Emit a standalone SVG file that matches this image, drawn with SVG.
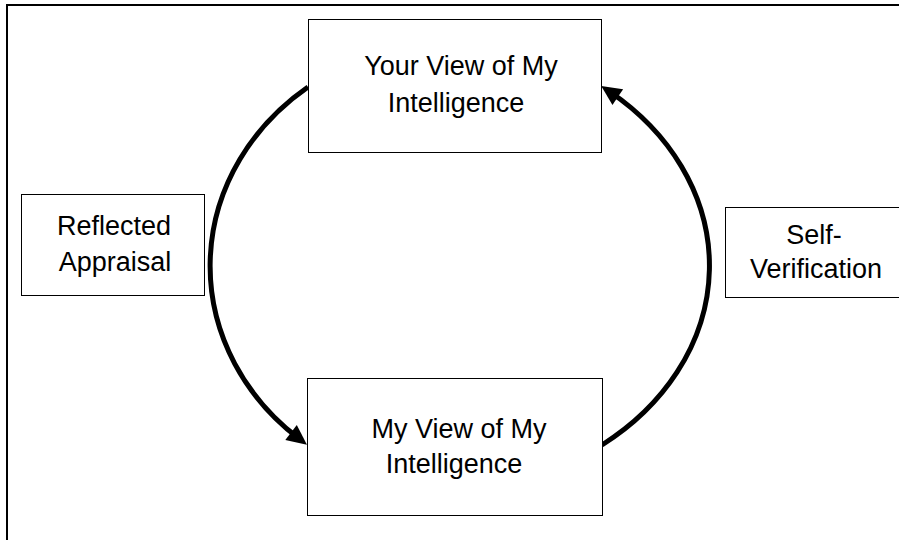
<svg xmlns="http://www.w3.org/2000/svg" width="899" height="540" viewBox="0 0 899 540">
  <style>
    .box { fill: #fff; stroke: #000; stroke-width: 1; }
    .lbl { font-family: "Liberation Sans", Arial, sans-serif; font-size: 27px; fill: #000; text-anchor: middle; }
    .arc { fill: none; stroke: #000; stroke-width: 5; }
    .frame { fill: none; stroke: #000; stroke-width: 2; }
  </style>
  <defs>
    <marker id="arrow" markerUnits="userSpaceOnUse" markerWidth="20" markerHeight="19" refX="10" refY="9.5" orient="auto" overflow="visible">
      <path d="M0,0 L20,9.5 L0,19 z" fill="#000"/>
    </marker>
  </defs>
  <rect width="899" height="540" fill="#fff"/>
  <path class="frame" d="M7,540 L7,5 L899,5"/>

  <g id="connectors">
    <path class="arc" d="M308,87 A251,226 0 0,0 299,438.6" marker-end="url(#arrow)"/>
    <path class="arc" d="M602,445 A275,226 0 0,0 609.5,91.5" marker-end="url(#arrow)"/>
  </g>

  <g id="your-view">
    <rect class="box" x="308.5" y="19.5" width="293" height="133"/>
    <text class="lbl" x="461" y="75">Your View of My</text>
    <text class="lbl" x="456" y="112">Intelligence</text>
  </g>

  <g id="my-view">
    <rect class="box" x="307.5" y="378.5" width="295" height="137"/>
    <text class="lbl" x="459" y="438">My View of My</text>
    <text class="lbl" x="454" y="473">Intelligence</text>
  </g>

  <g id="reflected-appraisal">
    <rect class="box" x="21.5" y="194.5" width="183" height="101"/>
    <text class="lbl" x="114" y="235">Reflected</text>
    <text class="lbl" x="115" y="271">Appraisal</text>
  </g>

  <g id="self-verification">
    <rect class="box" x="725.5" y="207.5" width="180" height="90"/>
    <text class="lbl" x="814" y="244">Self-</text>
    <text class="lbl" x="816" y="278">Verification</text>
  </g>
</svg>
